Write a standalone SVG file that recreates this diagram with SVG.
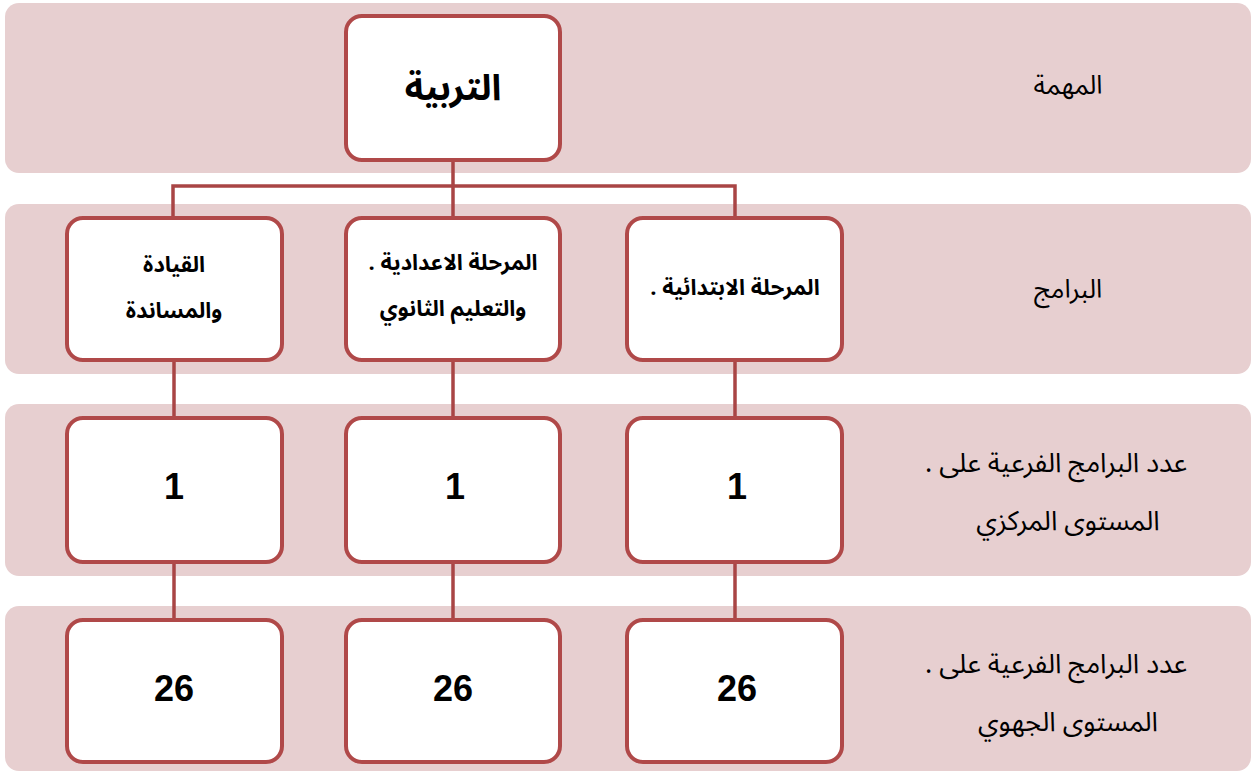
<svg xmlns="http://www.w3.org/2000/svg" width="1256" height="773" viewBox="0 0 1256 773">
<style>
.band{fill:#e7cfd0;}
.box{fill:#ffffff;stroke:#b04949;stroke-width:4;}
.conn{fill:none;stroke:#a94545;stroke-width:3.5;}
.ar{font-family:"Noto Sans Arabic","DejaVu Sans",sans-serif;fill:#000;text-anchor:middle;direction:rtl;unicode-bidi:embed;}
.lab{font-size:26px;}
.lab2{font-size:27px;}
.nodet{font-size:22px;font-weight:bold;}
.num{font-family:"Liberation Sans",Arial,sans-serif;font-size:36px;font-weight:bold;fill:#000;text-anchor:middle;}
</style>
<g id="bands">
<rect class="band" x="5" y="3" width="1246" height="170" rx="14"/>
<rect class="band" x="5" y="204" width="1246" height="170" rx="14"/>
<rect class="band" x="5" y="404" width="1246" height="172" rx="14"/>
<rect class="band" x="5" y="606" width="1246" height="165" rx="14"/>
</g>
<g id="connectors">
<path class="conn" d="M453 160 V186 M173 218 V186 H735 V218 M453 186 V218"/>
<path class="conn" d="M174 360 V418 M453 360 V418 M735 360 V418"/>
<path class="conn" d="M174 562 V620 M453 562 V620 M735 562 V620"/>
</g>
<g id="row-labels">
<text class="ar lab" x="1068" y="94">المهمة</text>
<text class="ar lab" x="1068" y="298">البرامج</text>
<text class="ar lab2" x="1056" y="472">عدد البرامج الفرعية على .</text>
<text class="ar lab2" x="1068" y="530">المستوى المركزي</text>
<text class="ar lab2" x="1056" y="673">عدد البرامج الفرعية على .</text>
<text class="ar lab2" x="1068" y="731">المستوى الجهوي</text>
</g>
<g id="node-root">
<rect class="box" x="346" y="16" width="214" height="144" rx="16"/>
<text class="ar" x="453" y="100" style="font-size:36px;font-weight:bold">التربية</text>
</g>
<g id="node-support">
<rect class="box" x="67" y="218" width="215" height="142" rx="16"/>
<text class="ar nodet" x="174" y="272">القيادة</text>
<text class="ar nodet" x="174" y="318">والمساندة</text>
</g>
<g id="node-secondary">
<rect class="box" x="346" y="218" width="214" height="142" rx="16"/>
<text class="ar nodet" x="453" y="270">المرحلة الاعدادية .</text>
<text class="ar nodet" x="453" y="316">والتعليم الثانوي</text>
</g>
<g id="node-primary">
<rect class="box" x="627" y="218" width="215" height="142" rx="16"/>
<text class="ar nodet" x="735" y="295">المرحلة الابتدائية .</text>
</g>
<g id="node-c1">
<rect class="box" x="67" y="418" width="215" height="144" rx="16"/>
<text class="num" x="174" y="499">1</text>
</g>
<g id="node-c2">
<rect class="box" x="346" y="418" width="214" height="144" rx="16"/>
<text class="num" x="455" y="499">1</text>
</g>
<g id="node-c3">
<rect class="box" x="627" y="418" width="215" height="144" rx="16"/>
<text class="num" x="737" y="499">1</text>
</g>
<g id="node-r1">
<rect class="box" x="67" y="620" width="215" height="142" rx="16"/>
<text class="num" x="174" y="701">26</text>
</g>
<g id="node-r2">
<rect class="box" x="346" y="620" width="214" height="142" rx="16"/>
<text class="num" x="453" y="701">26</text>
</g>
<g id="node-r3">
<rect class="box" x="627" y="620" width="215" height="142" rx="16"/>
<text class="num" x="737" y="701">26</text>
</g>
</svg>
